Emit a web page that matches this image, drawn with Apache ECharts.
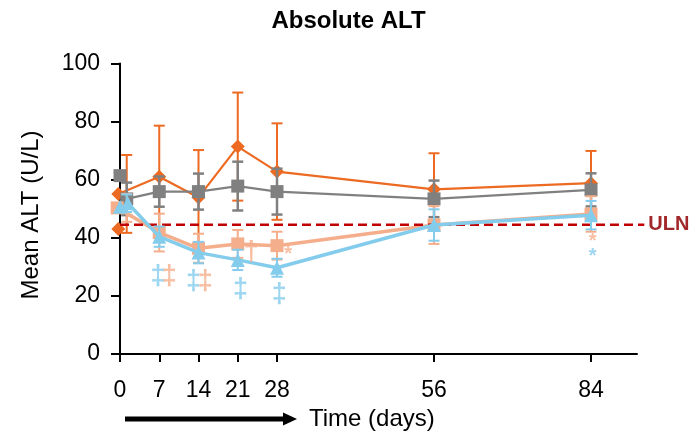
<!DOCTYPE html>
<html><head><meta charset="utf-8">
<script src="https://cdn.jsdelivr.net/npm/echarts@6/dist/echarts.min.js"></script>
<style>html,body{margin:0;padding:0;background:#fff}#c{width:697px;height:445px}</style>
</head><body><div id="c"></div>
<script>
// ---- data ----
const xTicks = [0, 7, 14, 21, 28, 56, 84];

const orangeX = [-0.3, 7, 14, 21, 28, 56, 84];
const orangeErrX = [1.2, 7, 14, 21, 28, 56, 84];
const orangeMean = [55.1, 61.0, 53.9, 71.4, 62.8, 56.7, 58.8];
const orangeSD = [13.4, 17.6, 16.3, 18.6, 16.6, 12.4, 11.1];
const orangeBaseline = [[-0.3, 43.0]];

const grayX = [1.2, 7, 14, 21, 28, 56, 84];
const grayErrX = [1.2, 7, 14, 21, 28, 56, 84];
const grayMean = [53.4, 55.9, 55.9, 57.8, 55.9, 53.4, 56.5];
const graySD = [5.6, 5.2, 6.2, 8.4, 7.9, 6.3, 5.7];
const grayBaseline = [[0, 61.4]];

const salmonX = [-0.5, 7, 14, 21, 28, 56, 84];
const salmonErrX = [1.2, 7, 14, 21, 28, 56, 84];
const salmonMean = [50.3, 41.8, 36.4, 37.9, 37.3, 44.4, 48.2];
const salmonSD = [4.8, 6.5, 5.0, 4.8, 4.8, 6.5, 6.1];

const blueX = [1.4, 7, 14, 21, 28, 56, 84];
const blueErrX = [1.2, 7, 14, 21, 28, 56, 84];
const blueMean = [51.9, 40.4, 34.9, 32.4, 29.7, 44.4, 47.8];
const blueSD = [3.0, 3.5, 3.7, 3.5, 3.1, 5.4, 4.9];
const blueBaseline = [[0, 50.7]];

const uln = 44.5;
const ulnEnd = 93.5;

// significance marks: [x, y, text]
const blueMarks = [[6.8, 26.6, '‡'], [13.1, 25.0, '‡'], [21.5, 22.2, '‡'], [28.4, 20.5, '‡'], [84.3, 33.4, '*']];
const salmonMarks = [[8.8, 26.6, '‡'], [15.2, 25.0, '‡'], [23.4, 34.8, '†'], [30.0, 34.1, '*'], [84.3, 38.6, '*']];

// ---- styles ----
const C = {orange: '#EC6A22', gray: '#808080', salmon: '#F5AE8B', blue: '#84CCEC', uln: '#C00000', ulnText: '#A0282B'};
const FONT = 'Liberation Sans, Arial, sans-serif';

const zip = (xs, ys) => xs.map((x, i) => [x, ys[i]]);
const errData = (xs, m, sd) => xs.map((x, i) => [x, m[i] - sd[i], m[i] + sd[i]]);

function errSeries(xs, m, sd, color, lw, capW, z) {
  return {
    type: 'custom', z: z, silent: true,
    data: errData(xs, m, sd),
    encode: {x: 0, y: [1, 2]},
    renderItem: function (params, api) {
      const x = api.value(0), lo = api.value(1), hi = api.value(2);
      const p1 = api.coord([x, hi]), p2 = api.coord([x, lo]);
      const h = capW / 2;
      const st = {stroke: color, lineWidth: lw};
      return {type: 'group', children: [
        {type: 'line', shape: {x1: p1[0], y1: p1[1], x2: p2[0], y2: p2[1]}, style: st},
        {type: 'line', shape: {x1: p1[0] - h, y1: p1[1], x2: p1[0] + h, y2: p1[1]}, style: st},
        {type: 'line', shape: {x1: p2[0] - h, y1: p2[1], x2: p2[0] + h, y2: p2[1]}, style: st}
      ]};
    }
  };
}
function lineSeries(xs, m, color, lw, symbol, size, z) {
  return {
    type: 'line', z: z, data: zip(xs, m), symbol: symbol, symbolSize: size,
    showSymbol: true, lineStyle: {color: color, width: lw}, itemStyle: {color: color},
    animation: false
  };
}
function pointSeries(pts, color, symbol, size, z) {
  return {type: 'scatter', z: z, data: pts, symbol: symbol, symbolSize: size, itemStyle: {color: color, opacity: 1}};
}
function markSeries(pts, color, z) {
  return {
    type: 'scatter', z: z, symbol: 'circle', symbolSize: 1, itemStyle: {color: 'rgba(0,0,0,0)'},
    data: pts.map(p => ({value: p, label: {fontSize: p[2] === '*' ? 20 : 27}})),
    label: {show: true, position: 'inside', formatter: p => p.value[2], color: color, fontFamily: FONT, fontWeight: 'bold'}
  };
}

const chart = echarts.init(document.getElementById('c'), null, {renderer: 'canvas'});
chart.setOption({
  animation: false,
  backgroundColor: '#fff',
  title: {text: 'Absolute ALT', left: 'center', top: 4,
    textStyle: {fontSize: 24, fontWeight: 'bold', color: '#000', fontFamily: FONT}},
  grid: {left: 112, right: 60, top: 63.5, bottom: 91},
  xAxis: {
    type: 'value', min: -1.427, max: 92.2,
    axisLine: {lineStyle: {color: '#000', width: 2}},
    axisTick: {show: true, length: 8, lineStyle: {color: '#000', width: 2}, customValues: xTicks},
    axisLabel: {customValues: xTicks, fontSize: 23, color: '#000', fontFamily: FONT, margin: 25},
    splitLine: {show: false}
  },
  yAxis: {
    type: 'value', min: 0, max: 100, interval: 20,
    axisLine: {show: true, onZero: true, lineStyle: {color: '#000', width: 2}},
    axisTick: {show: true, length: 9, lineStyle: {color: '#000', width: 2}},
    axisLabel: {fontSize: 23, color: '#000', fontFamily: FONT, margin: 12},
    splitLine: {show: false}
  },
  graphic: [
    {type: 'text', x: 31, y: 215, rotation: Math.PI / 2,
      style: {text: 'Mean ALT (U/L)', font: '24px ' + FONT, fill: '#000', align: 'center', verticalAlign: 'middle'}},
    {type: 'line', shape: {x1: 125, y1: 419, x2: 286, y2: 419}, style: {stroke: '#000', lineWidth: 5}},
    {type: 'polygon', shape: {points: [[283, 412.5], [297, 419], [283, 425.5]]}, style: {fill: '#000'}},
    {type: 'text', x: 309, y: 419,
      style: {text: 'Time (days)', font: '24px ' + FONT, fill: '#000', align: 'left', verticalAlign: 'middle'}}
  ],
  series: [
    errSeries(orangeErrX, orangeMean, orangeSD, C.orange, 2, 11, 2),
    lineSeries(orangeX, orangeMean, C.orange, 2.2, 'diamond', 14, 3),
    pointSeries(orangeBaseline, C.orange, 'diamond', 14, 3),
    errSeries(grayErrX, grayMean, graySD, C.gray, 2.5, 11, 4),
    lineSeries(grayX, grayMean, C.gray, 2.2, 'rect', 13, 5),
    pointSeries(grayBaseline, C.gray, 'rect', 13, 5),
    errSeries(salmonErrX, salmonMean, salmonSD, C.salmon, 2, 11, 6),
    lineSeries(salmonX, salmonMean, C.salmon, 3.5, 'rect', 13, 7),
    {
      type: 'custom', z: 8, silent: true, data: [[0, ulnEnd, uln]],
      encode: {x: [0, 1], y: 2},
      renderItem: function (params, api) {
        const a = api.coord([api.value(0), api.value(2)]);
        const b = api.coord([api.value(1), api.value(2)]);
        return {type: 'group', children: [
          {type: 'line', shape: {x1: a[0], y1: a[1], x2: b[0], y2: b[1]},
            style: {stroke: C.uln, lineWidth: 2.5, lineDash: [9, 5]}},
          {type: 'text', x: b[0] + 4, y: b[1],
            style: {text: 'ULN', font: 'bold 20px ' + FONT, fill: C.ulnText, align: 'left', verticalAlign: 'middle'}}
        ]};
      }
    },
    errSeries(blueErrX, blueMean, blueSD, C.blue, 2, 11, 9),
    lineSeries(blueX, blueMean, C.blue, 3.5, 'triangle', 14, 10),
    pointSeries(blueBaseline, C.blue, 'triangle', 14, 10),
    markSeries(blueMarks, C.blue, 11),
    markSeries(salmonMarks, C.salmon, 11)
  ]
});
</script>
</body></html>
